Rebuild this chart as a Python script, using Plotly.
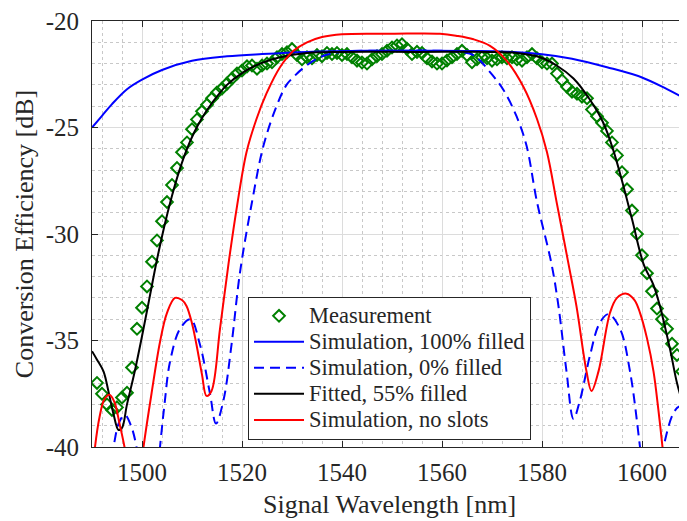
import plotly.graph_objects as go

# measured conversion efficiency, 1 nm steps
meas_wl = list(range(1491, 1610))
meas_db = [
    -36.99, -37.5, -38.0, -38.26, -38.14, -37.68, -37.45, -36.27, -34.45, -33.46,
    -32.46, -31.3, -30.3, -29.4, -28.5, -27.7, -26.9, -26.16, -25.7, -25.08,
    -24.62, -24.24, -23.93, -23.63, -23.36, -23.17, -22.94, -22.7, -22.47, -22.32,
    -22.13, -22.09, -22.24, -22.09, -22.0, -21.94, -21.7, -21.55, -21.47, -21.32,
    -21.6, -21.8, -21.7, -21.75, -21.6, -21.65, -21.5, -21.55, -21.5, -21.6,
    -21.55, -21.7, -21.86, -21.95, -22.0, -21.8, -21.65, -21.55, -21.4, -21.24,
    -21.15, -21.09, -21.3, -21.55, -21.45, -21.5, -21.75, -21.9, -22.0, -22.0,
    -21.85, -21.7, -21.55, -21.4, -21.6, -21.94, -21.8, -21.7, -21.75, -21.86,
    -21.8, -21.7, -21.75, -21.7, -21.8, -21.86, -21.7, -21.55, -21.75, -21.94,
    -22.0, -22.0, -22.47, -22.78, -23.09, -23.32, -23.42, -23.55, -23.63, -24.16,
    -24.47, -24.78, -25.16, -25.7, -26.31, -27.1, -27.9, -28.9, -30.0, -31.0,
    -31.84, -32.69, -33.5, -34.0, -34.45, -35.15, -35.68, -36.45, -37.22,
]

# simulation, 100% filled
full_wl = [1490, 1492, 1494, 1497, 1500, 1504, 1510, 1517, 1524, 1533, 1545, 1555,
           1565, 1573, 1580, 1586, 1593, 1600, 1605, 1609]
full_db = [-25.0, -24.45, -23.9, -23.2, -22.75, -22.3, -21.87, -21.66, -21.55, -21.45,
           -21.4, -21.4, -21.41, -21.44, -21.56, -21.77, -22.17, -22.65, -23.2, -23.7]

# simulation, 0% filled
empty_wl = [1493, 1494.3, 1495.5, 1496.6, 1497.8, 1498.9, 1500, 1501.5, 1503, 1503.6,
            1504.5, 1505.6, 1507.6, 1509.7, 1511.6, 1513.6, 1514.8, 1516.3, 1517.9, 1519.6,
            1522, 1524.3, 1526.9, 1528.9, 1530.3, 1532.3, 1535.6, 1540, 1550, 1560,
            1563, 1566.3, 1569.6, 1572.3, 1574.9, 1576.9, 1579, 1581.9, 1583.3, 1584.9,
            1586.3, 1587.6, 1589.6, 1591.5, 1593.3, 1595.6, 1597.6, 1599.6, 1601, 1602.5,
            1604.3, 1606.3, 1607.5, 1609]
empty_db = [-42, -40, -38.8, -38.5, -39.0, -40, -42, -43, -41.5, -40,
            -38.0, -36.0, -34.45, -34.0, -35.2, -37.5, -38.9, -37.8, -35.2, -31.8,
            -28.5, -25.85, -24.0, -23.0, -22.63, -22.2, -21.7, -21.45, -21.4, -21.4,
            -21.45, -21.6, -22.4, -23.24, -24.47, -25.85, -28.5, -31.4, -33.4, -36.45,
            -38.68, -37.8, -35.7, -34.2, -33.76, -34.45, -36.45, -40, -43, -42.5,
            -40, -38.4, -38.1, -38.3]

# fitted, 55% filled
fit_wl = [1490, 1491, 1492.3, 1493.3, 1494.3, 1495.3, 1496, 1497, 1498.5, 1500,
          1501.5, 1503, 1504.5, 1506, 1507.5, 1509, 1510.5, 1512, 1514, 1517,
          1520.3, 1523.6, 1527.6, 1533, 1540, 1555, 1570, 1575, 1579.6, 1583,
          1586.3, 1589.6, 1592.3, 1594.3, 1596, 1598, 1600.3, 1602.3, 1603.6, 1605.6,
          1607, 1608, 1609]
fit_db = [-35.5, -35.9, -36.45, -37.4, -38.45, -39.2, -39.1, -38.0, -36.5, -34.8,
          -33.0, -31.2, -29.6, -28.2, -27.0, -26.0, -25.2, -24.55, -23.85, -23.0,
          -22.4, -22.0, -21.7, -21.5, -21.45, -21.45, -21.45, -21.5, -21.7, -22.1,
          -22.7, -23.7, -24.8, -26.1, -27.5, -29.3, -31.4, -32.4, -33.4, -35.4,
          -37.0, -37.8, -38.3]

# simulation, no slots
noslot_wl = [1490, 1490.6, 1491.5, 1492.5, 1493.5, 1494.5, 1495.5, 1496.5, 1497.5, 1498.5,
             1499.5, 1500.3, 1501.9, 1503.6, 1505, 1506.6, 1508, 1508.9, 1510, 1510.9,
             1512, 1512.9, 1513.9, 1515.6, 1517.3, 1519, 1520.9, 1522.9, 1524.9, 1527.6,
             1530.3, 1533, 1536, 1540, 1550, 1559.6, 1563, 1566.3, 1569.6, 1572.9,
             1576.3, 1579, 1581, 1583, 1585.3, 1586.9, 1588.9, 1589.9, 1591.3, 1593.6,
             1595, 1596.9, 1598.5, 1599.6, 1601, 1602.3, 1603.3, 1604.1, 1605, 1606.5,
             1608, 1608.6, 1609]
noslot_db = [-41.5, -40, -38.6, -37.75, -37.55, -37.9, -38.9, -40.0, -41.5, -43,
             -41.5, -40, -37.5, -35.07, -33.7, -33.0, -33.1, -33.38, -34.2, -35.2,
             -36.6, -37.6, -37.37, -34.45, -31.4, -28.7, -26.16, -24.6, -23.4, -22.17,
             -21.4, -21.0, -20.75, -20.62, -20.6, -20.6, -20.7, -20.86, -21.17, -21.86,
             -23.1, -24.6, -26.16, -28.6, -31.4, -33.4, -36.45, -37.37, -36.45, -33.7,
             -33.0, -32.8, -33.1, -33.7, -34.9, -36.45, -38.3, -40, -42, -43,
             -41, -40, -39.4]

y_ticks = [-40, -35, -30, -25, -20]
y_ticklabels = ['-40', '-35', '-30', '-25', '-20']

FONT = 'Liberation Serif'
AX = '#262626'


def lg(txt):
    # legend text drawn larger than the row spacing font
    return '<span style="font-size:22.5px">' + txt + '</span>'


fig = go.Figure()

fig.add_trace(go.Scatter(x=meas_wl, y=meas_db, mode='markers', name=lg('Measurement'),
                         marker=dict(symbol='diamond-open', size=9, color='#008000',
                                     line=dict(width=2, color='#008000'))))
fig.add_trace(go.Scatter(x=full_wl, y=full_db, mode='lines', name=lg('Simulation, 100% filled'),
                         line=dict(color='#0000ff', width=2, shape='spline')))
fig.add_trace(go.Scatter(x=empty_wl, y=empty_db, mode='lines', name=lg('Simulation, 0% filled'),
                         line=dict(color='#0000ff', width=2, dash='10px,6px', shape='spline')))
fig.add_trace(go.Scatter(x=fit_wl, y=fit_db, mode='lines', name=lg('Fitted, 55% filled'),
                         line=dict(color='black', width=2, shape='spline')))
fig.add_trace(go.Scatter(x=noslot_wl, y=noslot_db, mode='lines', name=lg('Simulation, no slots'),
                         line=dict(color='#ff0000', width=2, shape='spline')))

fig.update_xaxes(range=[1490, 1609], tick0=1500, dtick=20, ticks='inside', ticklen=6,
                 tickcolor=AX, showline=True, linecolor=AX, linewidth=1, mirror='ticks',
                 showgrid=True, gridcolor='#dcdcdc', gridwidth=1, zeroline=False,
                 minor=dict(dtick=4, tick0=1500, showgrid=True, gridcolor='#c8c8c8',
                            griddash='dot', gridwidth=1),
                 ticklabelstandoff=3, ticklabeloverflow='allow',
                 tickfont=dict(family=FONT, size=25, color=AX))
fig.update_yaxes(range=[-40, -20], tickmode='array', tickvals=y_ticks, ticktext=y_ticklabels,
                 ticks='inside', ticklen=6, tickcolor=AX, showline=True, linecolor=AX,
                 linewidth=1, mirror=False, showgrid=True, gridcolor='#dcdcdc', gridwidth=1,
                 zeroline=False,
                 minor=dict(dtick=1, tick0=-40, showgrid=True, gridcolor='#c8c8c8',
                            griddash='dot', gridwidth=1),
                 ticklabelstandoff=7, ticklabeloverflow='allow',
                 tickfont=dict(family=FONT, size=25, color=AX),
                 title=dict(text='Conversion Efficiency [dB]', standoff=4,
                            font=dict(family=FONT, size=26, color=AX)))

# x axis title as a paper annotation so it sits fully inside the page
fig.add_annotation(text='Signal Wavelength [nm]', xref='paper', yref='paper',
                   x=0.5, y=-0.134, xanchor='center', yanchor='middle', showarrow=False,
                   font=dict(family=FONT, size=26, color=AX))

# the page body adds an 8 px margin, so the figure is 8 px smaller than the window
fig.update_layout(
    width=679, height=513,
    margin=dict(l=84, r=0, t=5, b=74),
    paper_bgcolor='white', plot_bgcolor='white',
    font=dict(family=FONT, color=AX),
    showlegend=True,
    legend=dict(x=0.2622, y=0.3525, xanchor='left', yanchor='top',
                bgcolor='white', bordercolor=AX, borderwidth=1, itemwidth=50,
                font=dict(family=FONT, size=17.7, color=AX), tracegroupgap=0),
)

fig.write_html("out.html")
